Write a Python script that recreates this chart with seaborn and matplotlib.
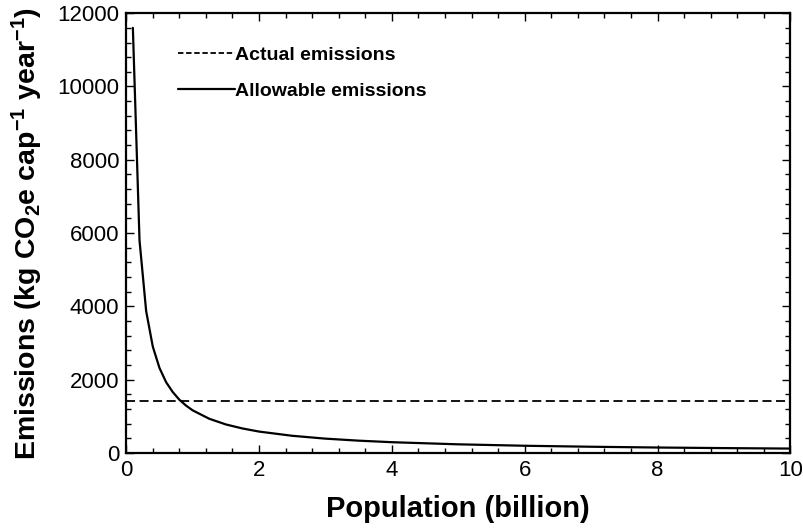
import matplotlib
matplotlib.use("Agg")
import matplotlib.pyplot as plt
import seaborn as sns
import pandas as pd
from matplotlib.ticker import MultipleLocator
from matplotlib.lines import Line2D

population = [0.1, 0.2, 0.3, 0.4, 0.5, 0.6, 0.7, 0.8, 0.9, 1.0,
              1.25, 1.5, 1.75, 2.0, 2.5, 3.0, 3.5, 4.0, 5.0, 6.0, 7.0, 8.0, 9.0, 10.0]
allowable = [11600, 5800, 3870, 2900, 2320, 1930, 1660, 1450, 1290, 1160,
             930, 775, 665, 580, 465, 387, 332, 290, 232, 193, 166, 145, 129, 116]
actual_level = 1420
actual_x = [0.0, 10.0]
actual = [actual_level, actual_level]

sns.set_theme(style="ticks")
plt.rcParams['font.family'] = ['Liberation Sans', 'DejaVu Sans']
plt.rcParams['mathtext.default'] = 'regular'
for k in ['text.color', 'axes.labelcolor', 'xtick.color', 'ytick.color', 'axes.edgecolor']:
    plt.rcParams[k] = 'black'

fig = plt.figure(figsize=(8.04, 5.29), dpi=100)
ax = fig.add_axes([0.157, 0.144, 0.826, 0.831])

df_allow = pd.DataFrame({"Population": population, "Emissions": allowable})
df_act = pd.DataFrame({"Population": actual_x, "Emissions": actual})

sns.lineplot(data=df_act, x="Population", y="Emissions", ax=ax, color="black",
             linestyle=(0, (5, 2.5)), linewidth=1.3)
sns.lineplot(data=df_allow, x="Population", y="Emissions", ax=ax, color="black",
             linewidth=1.6)

ax.set_xlim(0, 10)
ax.set_ylim(0, 12000)
ax.xaxis.set_major_locator(MultipleLocator(2))
ax.xaxis.set_minor_locator(MultipleLocator(0.4))
ax.yaxis.set_major_locator(MultipleLocator(2000))
ax.yaxis.set_minor_locator(MultipleLocator(400))
ax.tick_params(which="both", direction="in", top=True, right=True, labelsize=16,
               width=1.0, colors="black")
ax.tick_params(which="major", length=6, pad=5)
ax.tick_params(which="minor", length=3.5)
for s in ax.spines.values():
    s.set_linewidth(1.6)
    s.set_color("black")

ax.set_xlabel("Population (billion)", fontsize=21, fontweight="bold", labelpad=10)
ax.set_ylabel("Emissions (kg CO$_2$e cap$^{-1}$ year$^{-1}$)", fontsize=20.5,
              fontweight="bold", labelpad=9)

handles = [Line2D([], [], color="black", linestyle=(0, (3, 1.5)), linewidth=1.3),
           Line2D([], [], color="black", linewidth=1.6)]
leg = ax.legend(handles, ["Actual emissions", "Allowable emissions"],
                loc="upper left", bbox_to_anchor=(0.052, 0.965), frameon=False,
                handlelength=2.9, handletextpad=0.0, labelspacing=0.95,
                prop={"weight": "bold", "size": 14, "family": "Liberation Sans"})

fig.savefig("out.png", dpi=100)
